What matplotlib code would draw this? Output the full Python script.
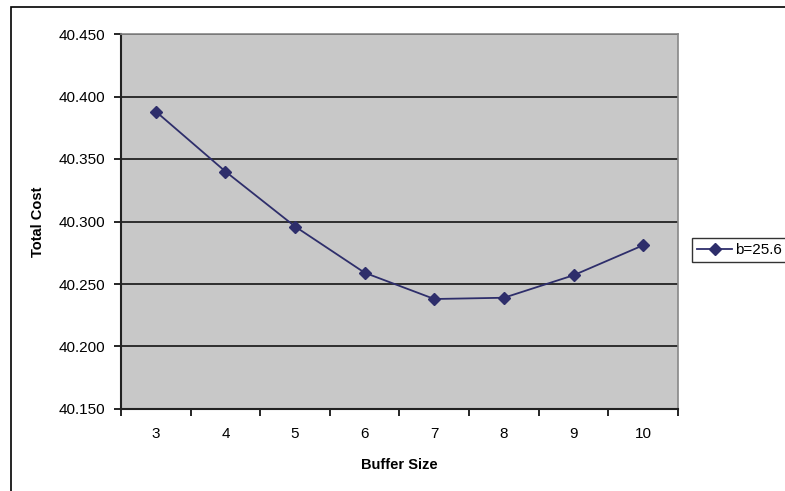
import matplotlib
matplotlib.use("Agg")
import matplotlib.pyplot as plt
from matplotlib.patches import Rectangle
from matplotlib.ticker import FixedLocator, NullFormatter

plt.rcParams['font.family'] = ['Liberation Sans', 'DejaVu Sans']

categories = ['3', '4', '5', '6', '7', '8', '9', '10']
total_cost = [40.388, 40.340, 40.296, 40.259, 40.238, 40.239, 40.257, 40.281]
series_label = 'b=25.6'
y_ticks = [40.150, 40.200, 40.250, 40.300, 40.350, 40.400, 40.450]

W, H = 785, 491
fig = plt.figure(figsize=(W/100, H/100), dpi=100)
fig.patch.set_facecolor('white')

# outer chart border (extends beyond right/bottom)
fig.add_artist(Rectangle((11/W, -0.1), 2.0, 1 - 7/H + 0.1, transform=fig.transFigure,
                         fill=False, edgecolor='black', linewidth=1.2, clip_on=False))

left, right, top, bottom = 121, 678, 34, 409
ax = fig.add_axes([left/W, 1 - bottom/H, (right-left)/W, (bottom-top)/H])
ax.set_facecolor('#C8C8C8')

x = list(range(len(categories)))
ax.plot(x, total_cost, color='#2E2E6B', linewidth=1.3, marker='D', markersize=6,
        markerfacecolor='#2E2E6B', markeredgecolor='#2E2E6B', label=series_label, zorder=3)

ax.set_xlim(-0.5, len(categories) - 0.5)
ax.set_ylim(40.150, 40.450)
ax.set_yticks(y_ticks)
ax.set_yticklabels([f'{v:.3f}' for v in y_ticks], fontsize=11)
ax.yaxis.grid(True, color='#222222', linewidth=1.3)
ax.set_axisbelow(True)

ax.xaxis.set_major_locator(FixedLocator([i - 0.5 for i in range(len(categories) + 1)]))
ax.xaxis.set_major_formatter(NullFormatter())
ax.xaxis.set_minor_locator(FixedLocator(x))
ax.set_xticklabels(categories, minor=True, fontsize=11)
ax.tick_params(axis='x', which='minor', length=0, pad=13)
ax.tick_params(axis='x', which='major', length=5, width=1.2, direction='out')
ax.tick_params(axis='y', length=5, width=1.2, direction='out', pad=6)

for s in ['top', 'right']:
    ax.spines[s].set_color('#888888')
    ax.spines[s].set_linewidth(1.2)
for s in ['left', 'bottom']:
    ax.spines[s].set_color('#222222')
    ax.spines[s].set_linewidth(1.5)

ax.set_xlabel('Buffer Size', fontsize=10.5, fontweight='bold', labelpad=12)
ax.set_ylabel('Total Cost', fontsize=10.5, fontweight='bold', labelpad=10)

leg = ax.legend(loc='center left', bbox_to_anchor=(692/W, 1 - 250/H), bbox_transform=fig.transFigure,
                frameon=True, fancybox=False, fontsize=11, handlelength=2.3, handletextpad=0.2,
                borderpad=0.35, borderaxespad=0)
leg.get_frame().set_edgecolor('black')
leg.get_frame().set_linewidth(1.0)

fig.savefig('out.png', dpi=100)
